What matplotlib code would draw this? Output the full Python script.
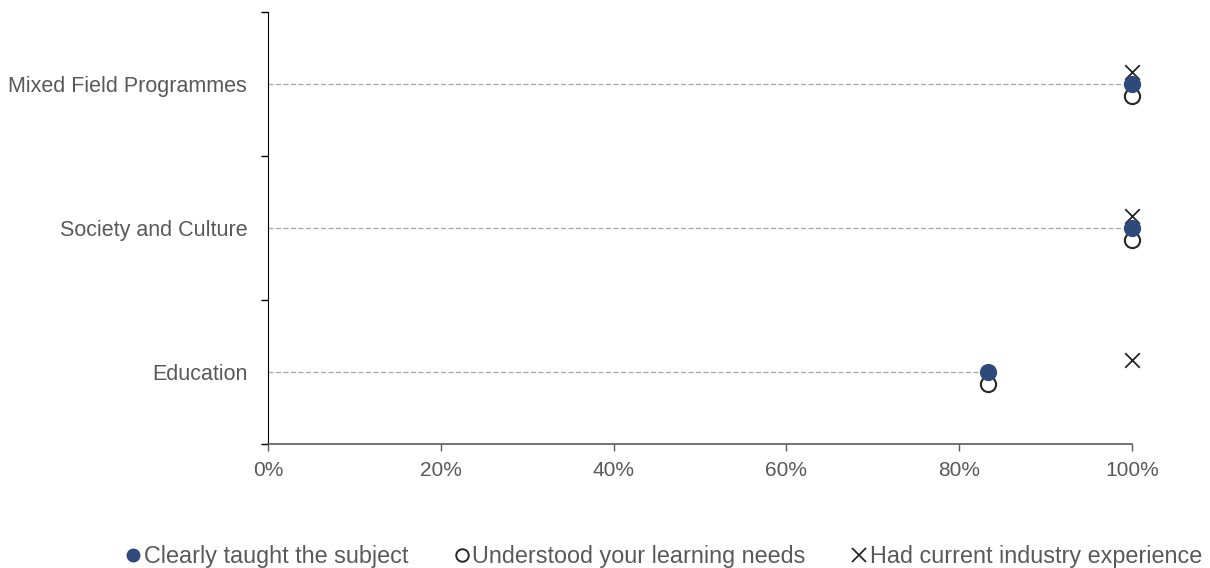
import numpy as np
import matplotlib.pyplot as plt
import matplotlib.transforms as mtransforms
from matplotlib.lines import Line2D

plt.rcParams['font.family'] = ['Liberation Sans', 'DejaVu Sans']

categories = ["Education", "Society and Culture", "Mixed Field Programmes"]
taught = [83.3, 100, 100]
understood = [83.3, 100, 100]
industry = [100, 100, 100]
xticks = [0, 20, 40, 60, 80, 100]

blue = "#2E4A7D"
textcol = "#595959"

fig = plt.figure(figsize=(12.1, 5.68), dpi=100)
ax = fig.add_axes([268 / 1210, 1 - 444 / 568, (1132 - 268) / 1210, 432 / 568])

ypos = np.arange(len(categories)) + 0.5

# dashed guide from 0 to the filled dot
for y, v in zip(ypos, taught):
    ax.plot([0, v], [y, y], ls=(0, (4, 2)), color="#A6A6A6", lw=0.9, zorder=1)

down = mtransforms.offset_copy(ax.transData, fig=fig, x=0, y=-12, units='dots')
up = mtransforms.offset_copy(ax.transData, fig=fig, x=0, y=12, units='dots')

ax.scatter(industry, ypos, marker="x", s=110, color="#262626", linewidths=1.3,
           transform=up, zorder=3, clip_on=False)
ax.scatter(taught, ypos, marker="o", s=130, color=blue, zorder=4, clip_on=False)
ax.scatter(understood, ypos, marker="o", s=120, facecolor="white", edgecolor="#262626",
           linewidths=1.5, transform=down, zorder=2, clip_on=False)

ax.set_xlim(0, 100)
ax.set_ylim(0, 3)
ax.set_xticks(xticks)
ax.set_xticklabels([f"{t}%" for t in xticks])
ax.set_yticks([0, 1, 2, 3])
ax.set_yticklabels([])
ax.set_yticks(ypos, minor=True)
ax.set_yticklabels(categories, minor=True)
ax.tick_params(axis='y', which='minor', length=0, pad=15, labelsize=15.5, labelcolor=textcol)
ax.tick_params(axis='y', which='major', length=5, width=1, color="black")
ax.tick_params(axis='x', length=5, width=1, color="#595959", labelsize=15,
               labelcolor=textcol, pad=7)

for s in ["top", "right"]:
    ax.spines[s].set_visible(False)
ax.spines["left"].set_color("black")
ax.spines["bottom"].set_color("#595959")
ax.spines["bottom"].set_linewidth(1.2)

handles = [
    Line2D([], [], ls="none", marker="o", markersize=9, color=blue),
    Line2D([], [], ls="none", marker="o", markersize=9, markerfacecolor="white",
           markeredgecolor="#262626", markeredgewidth=1.4),
    Line2D([], [], ls="none", marker="x", markersize=10, color="#262626", markeredgewidth=1.3),
]
labels = ["Clearly taught the subject", "Understood your learning needs",
          "Had current industry experience"]
fig.legend(handles, labels, loc="lower left", bbox_to_anchor=(126 / 1210, 0), ncol=3,
           frameon=False, fontsize=16.8, handletextpad=0.15, columnspacing=2.0,
           handlelength=0.6, labelcolor=textcol, borderaxespad=0, borderpad=0)

fig.savefig("out.png", dpi=100)
